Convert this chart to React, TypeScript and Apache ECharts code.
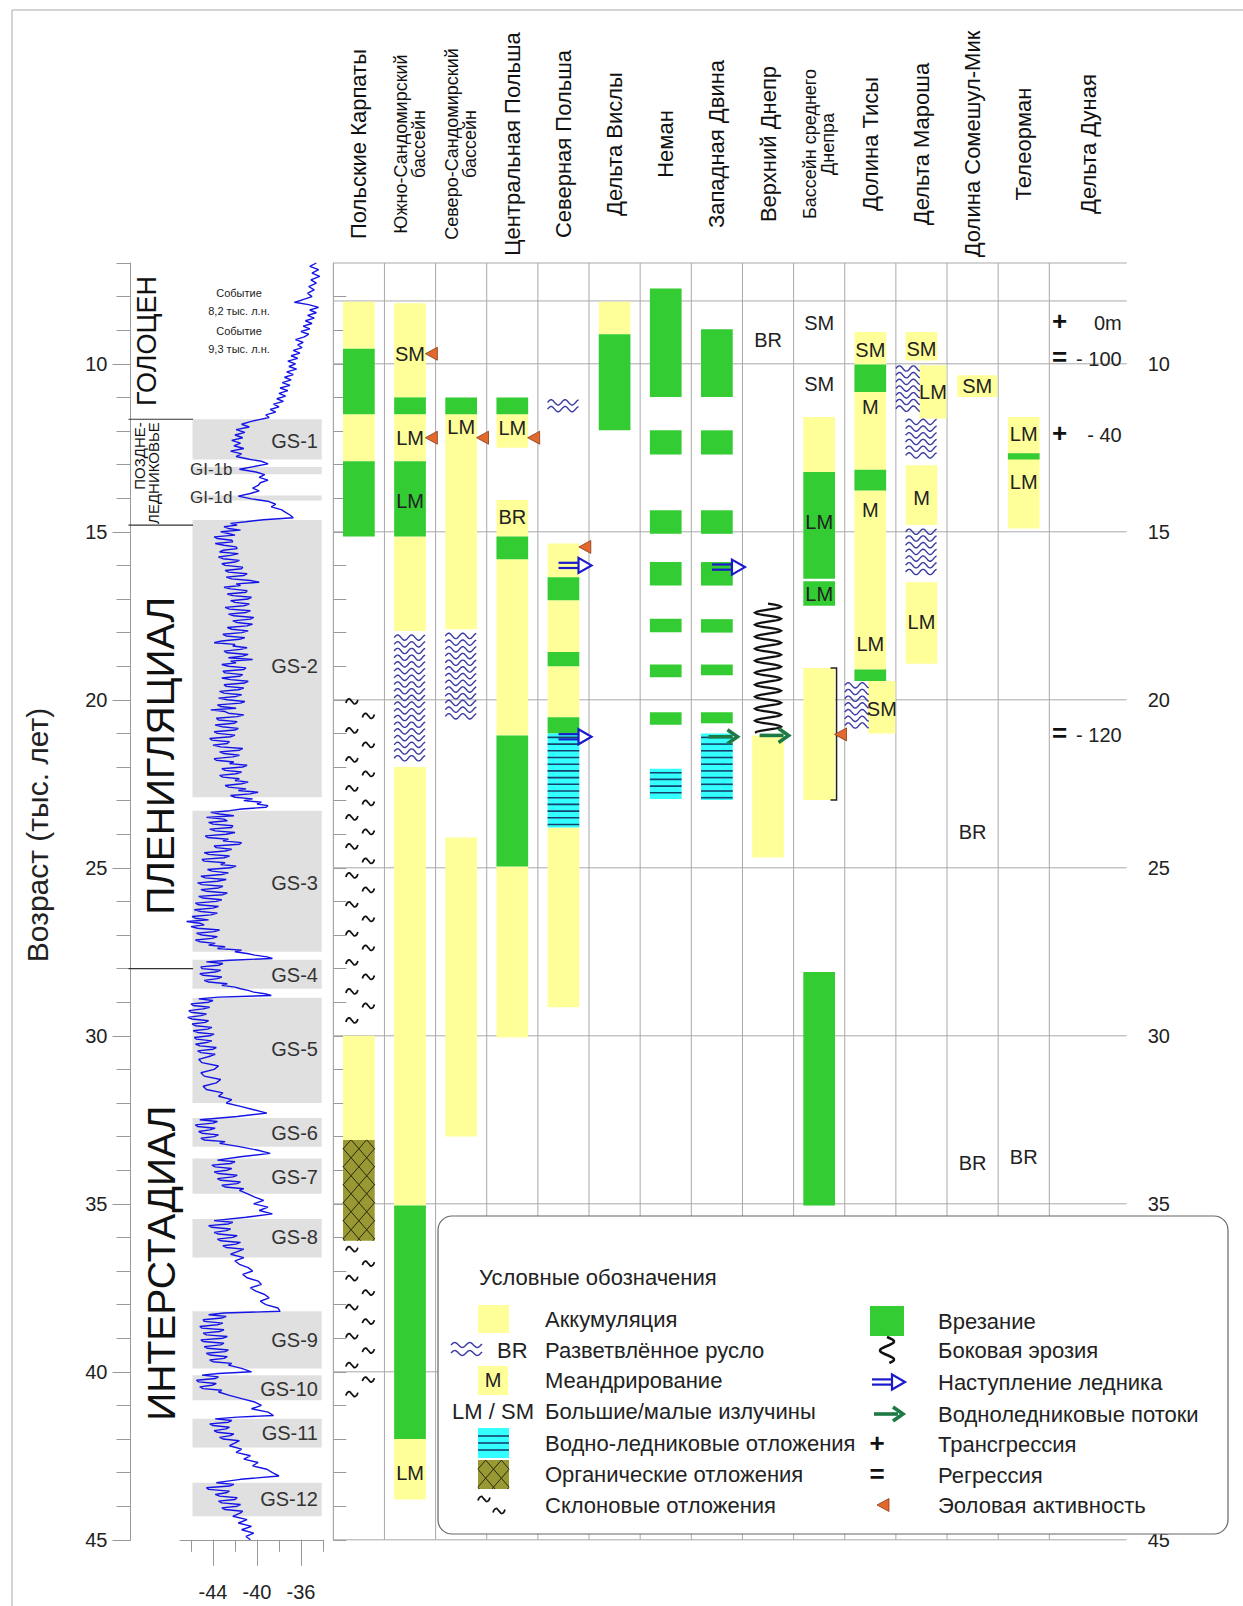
import React, { useEffect, useRef } from "react";
import * as echarts from "echarts";

// ================= DATA =================
const columns = [
  "Польские Карпаты",
  "Южно-Сандомирский\nбассейн",
  "Северо-Сандомирский\nбассейн",
  "Центральная Польша",
  "Северная Польша",
  "Дельта Вислы",
  "Неман",
  "Западная Двина",
  "Верхний Днепр",
  "Бассейн среднего\nДнепра",
  "Долина Тисы",
  "Дельта Мароша",
  "Долина Сомешул-Мик",
  "Телеорман",
  "Дельта Дуная",
];

const ageMajorTicks = [10, 15, 20, 25, 30, 35, 40, 45];
// right-axis labels (the "40" is hidden behind the legend box in the original)
const rightAgeLabels = [10, 15, 20, 25, 30, 35, 45];
const ageMinorTicks = [7, 8, 9, 10, 11, 12, 13, 14, 15, 16, 17, 18, 19, 20, 21, 22, 23, 24, 25, 26, 27, 28, 29, 30, 31, 32, 33, 34, 35, 36, 37, 38, 39, 40, 41, 42, 43, 44, 45];
const d18oTicks = [-46, -44, -42, -40, -38, -36, -34];
const d18oLabels = [-44, -40, -36];
const frameLineAges = [7, 8.13, 10, 15, 20, 25, 30, 35, 40, 45];

const periods: [string, number, number][] = [
  ["ГОЛОЦЕН", 7, 11.65],
  ["ПОЗДНЕ-\nЛЕДНИКОВЬЕ", 11.65, 14.8],
  ["ПЛЕНИГЛЯЦИАЛ", 14.8, 28],
  ["ИНТЕРСТАДИАЛ", 28, 45],
];

// [name, from, to, label age]
const stadials: [string, number, number, number][] = [
  ["GS-1", 11.65, 12.85, 12.3],
  ["GI-1b", 13.07, 13.29, 13.16],
  ["GI-1d", 13.92, 14.07, 13.98],
  ["GS-2", 14.65, 22.9, 19.0],
  ["GS-3", 23.3, 27.5, 25.45],
  ["GS-4", 27.74, 28.6, 28.2],
  ["GS-5", 28.87, 32.0, 30.4],
  ["GS-6", 32.45, 33.3, 32.9],
  ["GS-7", 33.65, 34.7, 34.2],
  ["GS-8", 35.45, 36.6, 36.0],
  ["GS-9", 38.2, 39.9, 39.05],
  ["GS-10", 40.1, 40.85, 40.5],
  ["GS-11", 41.4, 42.25, 41.83],
  ["GS-12", 43.3, 44.3, 43.8],
];

const holoceneEvents: [number, string][] = [
  [8.17, "Событие\n8,2 тыс. л.н."],
  [9.3, "Событие\n9,3 тыс. л.н."],
];

// NGRIP δ18O: [age ka, ‰]
const ngrip: [number, number][] = [
  [7.0, -34.6], [7.1, -35.2], [7.2, -34.4], [7.3, -35.0], [7.4, -34.3], [7.5, -35.1], [7.6, -34.6], [7.7, -35.3], [7.8, -34.8], [7.9, -35.4],
  [8.0, -35.0], [8.1, -35.9], [8.17, -36.6], [8.24, -35.3], [8.32, -34.4], [8.4, -35.2], [8.48, -34.6], [8.56, -35.4], [8.64, -34.8], [8.72, -35.6],
  [8.8, -35.0], [8.88, -35.8], [8.96, -35.2], [9.04, -36.0], [9.12, -35.3], [9.2, -35.7], [9.28, -36.5], [9.36, -35.8], [9.44, -36.3], [9.52, -35.9],
  [9.6, -36.7], [9.68, -36.1], [9.76, -36.9], [9.84, -36.3], [9.92, -37.2], [10.0, -36.5], [10.08, -37.1], [10.16, -36.4], [10.24, -37.3], [10.32, -36.7],
  [10.4, -37.5], [10.48, -36.9], [10.56, -37.7], [10.64, -37.0], [10.72, -37.9], [10.8, -37.2], [10.88, -38.0], [10.96, -37.4], [11.04, -38.2], [11.12, -37.6],
  [11.2, -38.5], [11.28, -38.0], [11.36, -38.8], [11.44, -38.3], [11.52, -39.2], [11.6, -38.9], [11.66, -39.8],
  [11.72, -40.6], [11.8, -41.4], [11.88, -40.7], [11.96, -41.9], [12.04, -41.1], [12.12, -42.0], [12.2, -41.3], [12.28, -42.3], [12.36, -41.5], [12.44, -42.1],
  [12.52, -41.2], [12.6, -42.4], [12.68, -41.4], [12.76, -41.9], [12.84, -40.7],
  [12.9, -39.6], [12.98, -39.0], [13.06, -40.3], [13.14, -41.6], [13.22, -40.1], [13.3, -39.3], [13.38, -39.8], [13.46, -39.0], [13.54, -39.7], [13.62, -39.9],
  [13.7, -40.4], [13.78, -39.8], [13.86, -40.6], [13.94, -41.7], [14.02, -40.5], [14.1, -38.9], [14.18, -38.3], [14.26, -38.7], [14.34, -37.8], [14.42, -37.4],
  [14.5, -37.0], [14.58, -36.7], [14.64, -39.4],
  [14.7, -41.0], [14.75, -42.4], [14.8, -41.8], [14.85, -43.0], [14.9, -42.6], [14.95, -41.5], [15.0, -43.3], [15.05, -42.6], [15.1, -42.0], [15.15, -43.9],
  [15.2, -43.6], [15.25, -42.3], [15.3, -42.2], [15.35, -43.8], [15.4, -43.0], [15.45, -41.9], [15.5, -41.8], [15.55, -43.1], [15.6, -43.4], [15.65, -41.7],
  [15.7, -42.4], [15.75, -43.5], [15.8, -43.1], [15.85, -41.6], [15.9, -42.0], [15.95, -43.2], [16.0, -42.9], [16.05, -41.3], [16.1, -41.4], [16.15, -42.9],
  [16.2, -42.6], [16.25, -40.9], [16.3, -41.2], [16.35, -42.8], [16.4, -42.3], [16.45, -40.6], [16.5, -39.8], [16.55, -41.9], [16.6, -41.5], [16.65, -43.0],
  [16.7, -42.4], [16.75, -40.9], [16.8, -41.0], [16.85, -42.7], [16.9, -42.2], [16.95, -40.5], [17.0, -40.8], [17.05, -42.4], [17.1, -42.0], [17.15, -40.7],
  [17.2, -41.2], [17.25, -42.9], [17.3, -42.5], [17.35, -40.6], [17.4, -41.0], [17.45, -42.6], [17.5, -42.1], [17.55, -40.3], [17.6, -40.6], [17.65, -42.2],
  [17.7, -41.8], [17.75, -40.4], [17.8, -40.9], [17.85, -42.7], [17.9, -42.3], [17.95, -40.8], [18.0, -41.4], [18.05, -43.1], [18.1, -42.8], [18.15, -41.1],
  [18.2, -41.6], [18.25, -43.2], [18.3, -43.9], [18.35, -42.0], [18.4, -42.2], [18.45, -40.9], [18.5, -41.5], [18.55, -43.0], [18.6, -42.7], [18.65, -40.8],
  [18.7, -41.3], [18.75, -42.6], [18.8, -40.4], [18.85, -42.4], [18.9, -41.9], [18.95, -43.2], [19.0, -42.6], [19.05, -41.0], [19.1, -41.2], [19.15, -43.1],
  [19.2, -42.9], [19.25, -41.3], [19.3, -41.6], [19.35, -43.2], [19.4, -42.4], [19.45, -40.8], [19.5, -41.1], [19.55, -43.0], [19.6, -42.8], [19.65, -41.2],
  [19.7, -41.7], [19.75, -43.4], [19.8, -43.0], [19.85, -41.4], [19.9, -41.9], [19.95, -43.5], [20.0, -42.7], [20.05, -41.1], [20.1, -41.5], [20.15, -43.6],
  [20.2, -43.3], [20.25, -41.9], [20.3, -44.2], [20.35, -42.9], [20.4, -42.6], [20.45, -41.2], [20.5, -41.8], [20.55, -43.7], [20.6, -43.5], [20.65, -41.8],
  [20.7, -42.1], [20.75, -43.8], [20.8, -43.2], [20.85, -41.7], [20.9, -42.0], [20.95, -43.9], [21.0, -43.6], [21.05, -42.0], [21.1, -42.4], [21.15, -44.3],
  [21.2, -44.1], [21.25, -42.5], [21.3, -42.7], [21.35, -44.0], [21.4, -43.3], [21.45, -41.3], [21.5, -41.6], [21.55, -43.4], [21.6, -43.0], [21.65, -41.6],
  [21.7, -42.2], [21.75, -43.9], [21.8, -43.7], [21.85, -42.1], [21.9, -42.5], [21.95, -40.9], [22.0, -41.3], [22.05, -43.2], [22.1, -42.9], [22.15, -41.4],
  [22.2, -41.9], [22.25, -43.4], [22.3, -43.1], [22.35, -41.6], [22.4, -42.0], [22.45, -40.8], [22.5, -41.4], [22.55, -42.9], [22.6, -42.6], [22.65, -41.0],
  [22.7, -41.7], [22.75, -39.9], [22.8, -40.6], [22.85, -42.4], [22.9, -42.0], [22.95, -40.4], [23.0, -41.2], [23.05, -39.6], [23.1, -40.0], [23.15, -39.0],
  [23.2, -39.2], [23.25, -41.4], [23.3, -42.5],
  [23.35, -44.2], [23.4, -43.4], [23.45, -42.1], [23.5, -44.6], [23.55, -43.0], [23.6, -42.7], [23.65, -44.4], [23.7, -44.0], [23.75, -42.2], [23.8, -42.3],
  [23.85, -44.3], [23.9, -43.8], [23.95, -42.0], [24.0, -42.8], [24.05, -44.7], [24.1, -44.5], [24.15, -42.6], [24.2, -43.1], [24.25, -41.4], [24.3, -41.6],
  [24.35, -43.9], [24.4, -43.7], [24.45, -42.3], [24.5, -42.9], [24.55, -44.8], [24.6, -44.4], [24.65, -42.5], [24.7, -43.0], [24.75, -45.0], [24.8, -44.8],
  [24.85, -42.9], [24.9, -43.3], [24.95, -41.9], [25.0, -42.4], [25.05, -44.5], [25.1, -44.1], [25.15, -42.6], [25.2, -43.2], [25.25, -45.1], [25.3, -44.7],
  [25.35, -42.8], [25.4, -43.6], [25.45, -45.4], [25.5, -45.0], [25.55, -43.1], [25.6, -43.5], [25.65, -45.1], [25.7, -44.6], [25.75, -42.7], [25.8, -43.1],
  [25.85, -45.3], [25.9, -44.9], [25.95, -43.2], [26.0, -43.7], [26.05, -45.6], [26.1, -45.3], [26.15, -43.5], [26.2, -44.0], [26.25, -45.7], [26.3, -45.1],
  [26.35, -43.6], [26.4, -44.2], [26.45, -45.9], [26.5, -45.6], [26.55, -44.4], [26.6, -46.4], [26.65, -45.2], [26.7, -44.8], [26.75, -46.0], [26.8, -45.4],
  [26.85, -43.4], [26.9, -43.9], [26.95, -45.5], [27.0, -45.0], [27.05, -43.6], [27.1, -44.1], [27.15, -45.6], [27.2, -45.2], [27.25, -43.8], [27.3, -44.4],
  [27.35, -42.9], [27.4, -43.6], [27.45, -41.4], [27.5, -42.0], [27.55, -40.9], [27.6, -40.2], [27.65, -39.1], [27.7, -38.6], [27.75, -42.5],
  [27.8, -44.6], [27.85, -43.1], [27.9, -43.5], [27.95, -45.1], [28.0, -45.0], [28.05, -43.3], [28.1, -43.8], [28.15, -45.2], [28.2, -44.9], [28.25, -43.2],
  [28.3, -43.6], [28.35, -44.8], [28.4, -44.4], [28.45, -42.7], [28.5, -43.2], [28.55, -42.0], [28.6, -41.5], [28.65, -40.8], [28.7, -40.3], [28.75, -39.3],
  [28.8, -38.7], [28.85, -43.5],
  [28.9, -45.3], [28.95, -44.0], [29.0, -44.4], [29.05, -46.0], [29.1, -45.8], [29.15, -44.3], [29.2, -44.9], [29.25, -46.2], [29.3, -46.0], [29.35, -44.6],
  [29.4, -45.1], [29.45, -46.3], [29.5, -45.9], [29.55, -44.4], [29.6, -44.7], [29.65, -45.9], [29.7, -45.6], [29.75, -44.1], [29.8, -44.5], [29.85, -45.8],
  [29.9, -45.4], [29.95, -43.9], [30.0, -44.3], [30.05, -45.7], [30.1, -45.5], [30.15, -44.1], [30.2, -44.6], [30.25, -45.6], [30.3, -45.2], [30.35, -43.7],
  [30.4, -44.0], [30.45, -45.4], [30.5, -45.1], [30.55, -43.8], [30.6, -44.2], [30.7, -45.3], [30.8, -45.0], [30.9, -43.5], [31.0, -43.9], [31.1, -45.1],
  [31.2, -44.8], [31.3, -43.3], [31.4, -43.7], [31.5, -44.9], [31.6, -44.6], [31.7, -43.1], [31.8, -43.5], [31.9, -42.3], [32.0, -42.8], [32.1, -41.5],
  [32.2, -40.3], [32.3, -39.1], [32.4, -41.8],
  [32.5, -45.2], [32.55, -43.6], [32.6, -44.0], [32.65, -45.6], [32.7, -45.4], [32.75, -43.8], [32.8, -44.3], [32.85, -45.3], [32.9, -45.0], [32.95, -43.5],
  [33.0, -43.9], [33.05, -45.1], [33.1, -44.8], [33.15, -42.9], [33.2, -43.4], [33.3, -41.6], [33.4, -40.0], [33.5, -38.8], [33.6, -41.5],
  [33.7, -43.6], [33.75, -42.0], [33.8, -42.4], [33.85, -44.1], [33.9, -43.8], [33.95, -42.3], [34.0, -42.7], [34.05, -43.9], [34.1, -43.5], [34.15, -41.8],
  [34.2, -42.2], [34.25, -43.6], [34.3, -43.3], [34.35, -41.5], [34.4, -41.8], [34.45, -43.2], [34.5, -42.9], [34.55, -41.2], [34.6, -41.6], [34.7, -40.9],
  [34.8, -40.2], [34.9, -39.4], [35.0, -40.3], [35.1, -39.0], [35.2, -39.8], [35.3, -38.6], [35.4, -41.0],
  [35.5, -43.9], [35.55, -42.2], [35.6, -42.6], [35.65, -44.4], [35.7, -44.1], [35.75, -42.4], [35.8, -42.8], [35.85, -43.9], [35.9, -43.5], [35.95, -41.8],
  [36.0, -42.2], [36.05, -43.6], [36.1, -43.3], [36.15, -41.5], [36.2, -41.9], [36.25, -43.1], [36.3, -42.8], [36.35, -41.2], [36.4, -41.6], [36.5, -42.4],
  [36.6, -41.2], [36.7, -42.0], [36.8, -41.6], [36.9, -40.8], [37.0, -40.4], [37.1, -41.3], [37.2, -40.9], [37.3, -39.9], [37.4, -39.6], [37.5, -40.6],
  [37.6, -40.1], [37.7, -39.3], [37.8, -38.9], [37.9, -39.7], [38.0, -39.2], [38.1, -38.1], [38.2, -37.9], [38.25, -43.0],
  [38.3, -44.4], [38.35, -42.8], [38.4, -43.2], [38.45, -44.9], [38.5, -44.8], [38.55, -43.1], [38.6, -43.6], [38.65, -45.2], [38.7, -45.0], [38.75, -43.0],
  [38.8, -43.4], [38.85, -44.9], [38.9, -44.6], [38.95, -42.7], [39.0, -43.1], [39.05, -45.1], [39.1, -44.9], [39.15, -43.0], [39.2, -43.3], [39.25, -44.8],
  [39.3, -44.5], [39.35, -42.6], [39.4, -42.9], [39.45, -44.6], [39.5, -44.3], [39.55, -42.7], [39.6, -43.0], [39.65, -44.3], [39.7, -44.0], [39.75, -42.3],
  [39.8, -42.6], [39.9, -41.4], [40.0, -40.5], [40.05, -43.5],
  [40.1, -45.0], [40.15, -43.5], [40.2, -43.8], [40.25, -45.5], [40.3, -45.3], [40.35, -43.7], [40.4, -44.1], [40.45, -45.2], [40.5, -44.9], [40.55, -43.2],
  [40.6, -43.5], [40.7, -42.5], [40.8, -41.4], [40.9, -40.2], [41.0, -39.6], [41.1, -40.5], [41.2, -39.0], [41.3, -38.5], [41.35, -41.8],
  [41.4, -43.8], [41.45, -42.3], [41.5, -42.6], [41.55, -44.3], [41.6, -44.0], [41.65, -42.5], [41.7, -42.8], [41.75, -43.9], [41.8, -43.6], [41.85, -42.1],
  [41.9, -42.4], [41.95, -43.4], [42.0, -43.1], [42.05, -41.6], [42.1, -41.9], [42.2, -42.5], [42.3, -41.4], [42.4, -41.9], [42.5, -40.6], [42.6, -41.2],
  [42.7, -39.9], [42.8, -40.4], [42.9, -39.1], [43.0, -38.6], [43.1, -38.0], [43.2, -41.5],
  [43.3, -43.7], [43.35, -42.1], [43.4, -42.5], [43.45, -44.6], [43.5, -44.4], [43.55, -42.5], [43.6, -42.8], [43.65, -43.8], [43.7, -43.4], [43.75, -41.8],
  [43.8, -42.0], [43.85, -43.5], [43.9, -43.2], [43.95, -41.5], [44.0, -41.8], [44.05, -43.2], [44.1, -42.9], [44.15, -41.3], [44.2, -41.5], [44.3, -42.2],
  [44.4, -40.9], [44.5, -41.7], [44.6, -40.5], [44.7, -41.4], [44.8, -40.3], [44.9, -41.0], [45.0, -40.6],
];

// Intervals: [column, from ka, to ka, lane?]
type Iv = [number, number, number, string?];
const accumulation: Iv[] = [
  [0, 8.15, 9.55], [0, 11.5, 12.9], [0, 30.0, 33.1],
  [1, 8.2, 11.0], [1, 11.5, 12.9], [1, 15.14, 17.95], [1, 22.0, 35.05], [1, 42.0, 43.8],
  [2, 11.5, 17.9], [2, 24.1, 33.0],
  [3, 11.5, 12.5], [3, 14.05, 15.14], [3, 15.82, 21.06], [3, 24.96, 30.05],
  [4, 15.35, 16.35], [4, 17.04, 18.58], [4, 19.0, 20.52], [4, 23.8, 29.15],
  [5, 8.15, 9.12],
  [8, 21.06, 24.69],
  [9, 11.58, 13.22], [9, 19.05, 22.98],
  [10, 9.05, 10.02], [10, 10.84, 13.15], [10, 13.77, 19.1], [10, 19.44, 21.0, "R"],
  [11, 9.05, 9.9], [11, 10.04, 11.63, "R"], [11, 13.02, 14.8], [11, 16.5, 18.93],
  [12, 10.34, 10.99, "W"],
  [13, 11.58, 14.9],
];
const incision: Iv[] = [
  [0, 9.55, 11.5], [0, 12.9, 15.14],
  [1, 11.0, 11.5], [1, 12.9, 15.14], [1, 35.05, 42.0],
  [2, 11.0, 11.5],
  [3, 11.0, 11.5], [3, 15.14, 15.82], [3, 21.06, 24.96],
  [4, 16.35, 17.04], [4, 18.58, 19.0], [4, 20.52, 21.0],
  [5, 9.12, 11.98],
  [6, 7.76, 10.99], [6, 11.98, 12.7], [6, 14.36, 15.06], [6, 15.9, 16.6], [6, 17.59, 17.99], [6, 18.95, 19.33], [6, 20.37, 20.74],
  [7, 8.97, 10.99], [7, 11.98, 12.7], [7, 14.36, 15.06], [7, 15.9, 16.6], [7, 17.6, 18.0], [7, 18.95, 19.27], [7, 20.37, 20.7],
  [9, 13.22, 16.4], [9, 16.47, 17.2], [9, 28.1, 35.05],
  [10, 10.02, 10.84], [10, 13.15, 13.77], [10, 19.1, 19.44],
  [13, 12.66, 12.85],
];
const braided: Iv[] = [
  [1, 18.05, 22.0], [2, 18.0, 20.6], [4, 11.05, 11.5],
  [10, 19.47, 21.0, "L"],
  [11, 10.04, 11.47, "L"], [11, 11.63, 12.97], [11, 14.9, 16.4],
];
const glacialDeposits: Iv[] = [[4, 21.0, 23.8], [6, 22.05, 22.95], [7, 21.0, 22.98]];
const organicDeposits: Iv[] = [[0, 33.1, 36.1]];
const slopeDeposits: Iv[] = [[0, 19.9, 29.8], [0, 36.2, 40.8]];
const lateralErosion: Iv[] = [[8, 17.14, 21.0]];
const brackets: Iv[] = [[9, 19.05, 22.98]];

// Labels: [column, age, text, lane?]
type Lb = [number, number, string, string?];
const channelLabels: Lb[] = [
  [1, 9.7, "SM"], [1, 12.2, "LM"], [1, 14.07, "LM"], [1, 43.0, "LM"],
  [2, 11.88, "LM"],
  [3, 11.9, "LM"], [3, 14.56, "BR"],
  [8, 9.28, "BR"],
  [9, 8.78, "SM"], [9, 10.59, "SM"], [9, 14.7, "LM"], [9, 16.84, "LM"],
  [10, 9.6, "SM"], [10, 11.29, "M"], [10, 14.36, "M"], [10, 18.33, "LM"], [10, 20.27, "SM", "R"],
  [11, 9.55, "SM"], [11, 10.84, "LM", "R"], [11, 14.0, "M"], [11, 17.69, "LM"],
  [12, 10.67, "SM", "W"], [12, 23.94, "BR"], [12, 33.8, "BR"],
  [13, 12.08, "LM"], [13, 13.52, "LM"], [13, 33.6, "BR"],
];

// Point events: [column, age]
const glacierAdvance: [number, number][] = [[4, 16.0], [4, 21.1], [7, 16.05]];
const meltwaterFlows: [number, number][] = [[7, 21.1], [8, 21.06]];
const aeolianActivity: [number, number][] = [[1, 9.7], [1, 12.2], [2, 12.2], [3, 12.2], [4, 15.45], [9, 21.03]];

// Sea level (Danube delta): [age, sign, level]
const seaLevel: [number, string, string][] = [
  [8.75, "+", "0m"],
  [9.82, "=", "- 100"],
  [12.1, "+", "- 40"],
  [21.03, "=", "- 120"],
];

const legendLeft = ["Аккумуляция", "Разветвлённое русло", "Меандрирование", "Большие/малые излучины", "Водно-ледниковые отложения", "Органические отложения", "Склоновые отложения"];
const legendRight = ["Врезание", "Боковая эрозия", "Наступление ледника", "Водноледниковые потоки", "Трансгрессия", "Регрессия", "Эоловая активность"];

// ================= STYLE / LAYOUT =================
const FONT = "'Liberation Sans', Arial, Helvetica, sans-serif";
const YELLOW = "#ffff99";
const GREEN = "#33cc33";
const CYAN = "#33ffff";
const OLIVE = "#999933";
const WAVE = "#3c3ca4";
const GLACIER = "#1a1acc";
const MELT = "#1d7a45";
const GRIDC = "#a9a9a9";
const TOP = 263;
const HEIGHT = 38 * 33.6;
const LAST_COL = 1.513;
const XMAX = 14 + LAST_COL;
const LANES: Record<string, [number, number]> = {
  C: [0.19, 0.81],
  L: [0.0, 0.47],
  R: [0.46, 0.99],
  W: [0.2, 0.98],
};
const colRight = (i: number) => (i === columns.length - 1 ? i + LAST_COL : i + 1);
const colCenter = (i: number) => (i + colRight(i)) / 2;

function txt(x: number, y: number, text: string, o: any = {}) {
  const align = o.align || "center";
  const valign = o.valign || "middle";
  return {
    type: "text",
    x,
    y,
    rotation: o.rotation || 0,
    z: o.z,
    style: {
      text,
      fill: o.color || "#222",
      fontSize: o.size || 20,
      fontFamily: FONT,
      fontWeight: o.weight || "normal",
      align,
      textAlign: align,
      verticalAlign: valign,
      textVerticalAlign: valign,
      lineHeight: o.lineHeight,
    },
  };
}

function waves(x0: number, y0: number, x1: number, y1: number, step: number, amp: number, period: number, color: string, lw: number) {
  const out: any[] = [];
  for (let y = y0 + step / 2; y <= y1 - step / 2 + 0.5; y += step) {
    const pts: number[][] = [];
    for (let x = x0; x <= x1 + 0.01; x += 1) pts.push([x, y - amp * Math.sin(((x - x0) / period) * 2 * Math.PI)]);
    out.push({ type: "polyline", shape: { points: pts }, style: { stroke: color, lineWidth: lw, fill: null } });
  }
  return out;
}

function hatch(x0: number, y0: number, x1: number, y1: number, dk: number, slope: number, color: string) {
  const out: any[] = [];
  for (const s of [slope, -slope]) {
    const ks = [y0 - s * x0, y0 - s * x1, y1 - s * x0, y1 - s * x1];
    const kmin = Math.min(...ks);
    const kmax = Math.max(...ks);
    for (let k = kmin + dk / 2; k < kmax; k += dk) {
      const pts: number[][] = [];
      for (const x of [x0, x1]) {
        const y = s * x + k;
        if (y >= y0 - 1e-6 && y <= y1 + 1e-6) pts.push([x, y]);
      }
      for (const y of [y0, y1]) {
        const x = (y - k) / s;
        if (x >= x0 - 1e-6 && x <= x1 + 1e-6) pts.push([x, y]);
      }
      if (pts.length >= 2) {
        pts.sort((a, b) => a[0] - b[0]);
        const a = pts[0];
        const b = pts[pts.length - 1];
        out.push({ type: "line", shape: { x1: a[0], y1: a[1], x2: b[0], y2: b[1] }, style: { stroke: color, lineWidth: 1 } });
      }
    }
  }
  return out;
}

function tilde(cx: number, cy: number) {
  return {
    type: "polyline",
    shape: { points: [[cx - 6, cy + 1.5], [cx - 3, cy - 2.5], [cx, cy], [cx + 3, cy + 2.5], [cx + 6, cy - 1.5]], smooth: 0.6 },
    style: { stroke: "#111", lineWidth: 1.7, fill: null },
  };
}

function zigzag(cx: number, y0: number, y1: number, amp: number, period: number, lw: number) {
  const pts: number[][] = [];
  for (let y = y0; y <= y1; y += 1) pts.push([cx + amp * Math.sin(((y - y0) / period) * 2 * Math.PI), y]);
  return { type: "polyline", shape: { points: pts }, style: { stroke: "#111", lineWidth: lw, fill: null } };
}

function glacierArrow(tipX: number, y: number) {
  return [
    { type: "line", shape: { x1: tipX - 33, y1: y - 2.6, x2: tipX - 11, y2: y - 2.6 }, style: { stroke: GLACIER, lineWidth: 2.2 } },
    { type: "line", shape: { x1: tipX - 33, y1: y + 2.6, x2: tipX - 11, y2: y + 2.6 }, style: { stroke: GLACIER, lineWidth: 2.2 } },
    { type: "polygon", shape: { points: [[tipX - 13, y - 7.5], [tipX, y], [tipX - 13, y + 7.5]] }, style: { fill: "#fff", stroke: GLACIER, lineWidth: 2.2 } },
  ];
}

function meltArrow(tipX: number, y: number) {
  return [
    { type: "line", shape: { x1: tipX - 30, y1: y, x2: tipX - 6, y2: y }, style: { stroke: MELT, lineWidth: 3.6 } },
    { type: "polyline", shape: { points: [[tipX - 11, y - 7], [tipX - 1, y], [tipX - 11, y + 7]] }, style: { stroke: MELT, lineWidth: 3.6, fill: null, lineJoin: "miter" } },
  ];
}

function aeolian(tipX: number, y: number) {
  return {
    type: "polygon",
    shape: { points: [[tipX, y], [tipX + 12, y - 6.5], [tipX + 12, y + 6.5]] },
    style: { fill: "#e2692e", stroke: "#8a3b17", lineWidth: 0.8 },
  };
}

// ---- series builders ----
function intervalSeries(id: string, items: Iv[], draw: (x0: number, y0: number, x1: number, y1: number) => any, z: number) {
  return {
    type: "custom",
    id,
    xAxisIndex: 2,
    yAxisIndex: 1,
    z,
    silent: true,
    clip: false,
    data: items.map((it) => [it[0], it[1], it[2]]),
    renderItem: (params: any, api: any) => {
      const it = items[params.dataIndex];
      const lane = LANES[it[3] || "C"];
      const p0 = api.coord([it[0] + lane[0], it[1]]);
      const p1 = api.coord([it[0] + lane[1], it[2]]);
      return draw(p0[0], p0[1], p1[0], p1[1]);
    },
  };
}

function pointSeries(id: string, items: any[], draw: (it: any, api: any) => any, z = 6) {
  return {
    type: "custom",
    id,
    xAxisIndex: 2,
    yAxisIndex: 1,
    z,
    silent: true,
    clip: false,
    data: items.map((it) => [it[0], it[1]]),
    renderItem: (params: any, api: any) => draw(items[params.dataIndex], api),
  };
}

function buildOption() {
  const series: any[] = [];

  // stadial bands + labels
  series.push({
    type: "custom",
    id: "stadials",
    xAxisIndex: 0,
    yAxisIndex: 0,
    z: 1,
    silent: true,
    data: stadials.map((s) => [-40, s[1], s[2]]),
    renderItem: (params: any, api: any) => {
      const [name, from, to, la] = stadials[params.dataIndex];
      const cs = params.coordSys;
      const y0 = api.coord([-40, from])[1];
      const y1 = api.coord([-40, to])[1];
      const ly = api.coord([-40, la])[1];
      const gi = name.indexOf("GI") === 0;
      return {
        type: "group",
        children: [
          { type: "rect", shape: { x: cs.x + 12.5, y: y0, width: cs.width - 13.8, height: y1 - y0 }, style: { fill: "#e0e0e0" } },
          gi
            ? txt(cs.x + 10, ly, name, { size: 17, align: "left", color: "#333" })
            : txt(cs.x + cs.width - 5, ly, name, { size: 20, align: "right", color: "#333" }),
        ],
      };
    },
  });

  // NGRIP curve
  series.push({
    type: "line",
    id: "ngrip",
    xAxisIndex: 0,
    yAxisIndex: 0,
    z: 3,
    silent: true,
    symbol: "none",
    showSymbol: false,
    lineStyle: { color: "#1414e6", width: 1.4 },
    data: ngrip.map(([a, v]) => [v, a]),
  });

  // Holocene events
  series.push({
    type: "custom",
    id: "events",
    xAxisIndex: 0,
    yAxisIndex: 0,
    z: 4,
    silent: true,
    data: holoceneEvents.map((e) => [-47, e[0]]),
    renderItem: (params: any, api: any) => {
      const e = holoceneEvents[params.dataIndex];
      const cs = params.coordSys;
      const y = api.coord([-47, e[0]])[1];
      return txt(cs.x + 59, y, e[1], { size: 11, lineHeight: 18, color: "#222" });
    },
  });

  // periods (left column)
  series.push({
    type: "custom",
    id: "periods",
    xAxisIndex: 3,
    yAxisIndex: 2,
    z: 4,
    silent: true,
    clip: false,
    data: periods.map((p) => [0, p[1], p[2]]),
    renderItem: (params: any, api: any) => {
      const i = params.dataIndex;
      const [name, from, to] = periods[i];
      const cs = params.coordSys;
      const yf = api.coord([0, from])[1];
      const yt = api.coord([0, to])[1];
      const children: any[] = [];
      if (i > 0) children.push({ type: "line", shape: { x1: cs.x - 2, y1: yf, x2: cs.x + cs.width, y2: yf }, style: { stroke: "#333", lineWidth: 1.2 } });
      const st = [
        { size: 27, dx: 16, dy: 0 },
        { size: 15, dx: 16, dy: 0 },
        { size: 39, dx: 30, dy: 9 },
        { size: 39, dx: 31, dy: 9 },
      ][i];
      if (i === 1) children.push(txt(cs.x + st.dx, yf + 3, name, { rotation: Math.PI / 2, size: st.size, align: "right", lineHeight: 14, color: "#111" }));
      else children.push(txt(cs.x + st.dx, (yf + yt) / 2 + st.dy, name, { rotation: Math.PI / 2, size: st.size, color: "#111" }));
      return { type: "group", children };
    },
  });

  // frame lines of the columns area
  const boundaries = columns.map((_, i) => i);
  series.push({
    type: "custom",
    id: "vlines",
    xAxisIndex: 2,
    yAxisIndex: 1,
    z: 1,
    silent: true,
    data: boundaries.map((b) => [b, 7]),
    renderItem: (params: any, api: any) => {
      const b = boundaries[params.dataIndex];
      const p0 = api.coord([b, 7]);
      const p1 = api.coord([b, 45]);
      return { type: "line", shape: { x1: p0[0], y1: p0[1], x2: p1[0], y2: p1[1] }, style: { stroke: GRIDC, lineWidth: 1 } };
    },
  });
  series.push({
    type: "custom",
    id: "hlines",
    xAxisIndex: 2,
    yAxisIndex: 1,
    z: 1,
    silent: true,
    data: frameLineAges.map((a) => [0, a]),
    renderItem: (params: any, api: any) => {
      const a = frameLineAges[params.dataIndex];
      const p0 = api.coord([0, a]);
      const p1 = api.coord([XMAX, a]);
      return { type: "line", shape: { x1: p0[0], y1: p0[1], x2: p1[0], y2: p1[1] }, style: { stroke: GRIDC, lineWidth: 1 } };
    },
  });

  // column headers
  series.push({
    type: "custom",
    id: "headers",
    xAxisIndex: 2,
    yAxisIndex: 1,
    z: 6,
    silent: true,
    clip: false,
    data: columns.map((_, i) => [colCenter(i), 7]),
    renderItem: (params: any, api: any) => {
      const i = params.dataIndex;
      const name = columns[i];
      const p = api.coord([colCenter(i), 7]);
      const two = name.indexOf("\n") >= 0;
      return txt(p[0], 144, name, { rotation: Math.PI / 2, size: two ? 18 : 22, lineHeight: 18, color: "#111" });
    },
  });

  // blocks
  series.push(intervalSeries("accumulation", accumulation, (x0, y0, x1, y1) => ({ type: "rect", shape: { x: x0, y: y0, width: x1 - x0, height: y1 - y0 }, style: { fill: YELLOW } }), 2));
  series.push(intervalSeries("incision", incision, (x0, y0, x1, y1) => ({ type: "rect", shape: { x: x0, y: y0, width: x1 - x0, height: y1 - y0 }, style: { fill: GREEN } }), 2));
  series.push(intervalSeries("braided", braided, (x0, y0, x1, y1) => ({ type: "group", children: waves(x0, y0, x1, y1, 6.7, 2.7, 14, WAVE, 1.4) }), 3));
  series.push(
    intervalSeries(
      "glacial",
      glacialDeposits,
      (x0, y0, x1, y1) => {
        const ch: any[] = [{ type: "rect", shape: { x: x0, y: y0, width: x1 - x0, height: y1 - y0 }, style: { fill: CYAN } }];
        for (let y = y0 + 4; y < y1 - 1; y += 6.7) ch.push({ type: "line", shape: { x1: x0, y1: y, x2: x1, y2: y }, style: { stroke: "#14446e", lineWidth: 1.6 } });
        return { type: "group", children: ch };
      },
      3
    )
  );
  series.push(
    intervalSeries(
      "organic",
      organicDeposits,
      (x0, y0, x1, y1) => ({
        type: "group",
        children: [{ type: "rect", shape: { x: x0, y: y0, width: x1 - x0, height: y1 - y0 }, style: { fill: OLIVE } }, ...hatch(x0, y0, x1, y1, 18, 1.15, "#2a2a10")],
      }),
      3
    )
  );
  series.push(
    intervalSeries(
      "slope",
      slopeDeposits,
      (x0, y0, x1, y1) => {
        const w = x1 - x0;
        const ch: any[] = [];
        let k = 0;
        for (let y = y0 + 5; y <= y1 - 3; y += 14.5) {
          ch.push(tilde(k % 2 === 0 ? x0 + 0.28 * w : x0 + 0.8 * w, y));
          k++;
        }
        return { type: "group", children: ch };
      },
      3
    )
  );
  series.push(intervalSeries("lateral", lateralErosion, (x0, y0, x1, y1) => zigzag((x0 + x1) / 2, y0, y1, 13, 12, 2.2), 3));
  series.push({
    type: "custom",
    id: "bracket",
    xAxisIndex: 2,
    yAxisIndex: 1,
    z: 4,
    silent: true,
    data: brackets.map((b) => [b[0], b[1], b[2]]),
    renderItem: (params: any, api: any) => {
      const b = brackets[params.dataIndex];
      const p0 = api.coord([b[0] + 0.84, b[1]]);
      const p1 = api.coord([b[0] + 0.84, b[2]]);
      return {
        type: "polyline",
        shape: { points: [[p0[0] - 6, p0[1]], [p0[0], p0[1]], [p1[0], p1[1]], [p1[0] - 6, p1[1]]] },
        style: { stroke: "#222", lineWidth: 1.5, fill: null },
      };
    },
  });

  // labels & symbols
  series.push(
    pointSeries("labels", channelLabels, (it: Lb, api: any) => {
      const lane = LANES[it[3] || "C"];
      const p = api.coord([it[0] + (lane[0] + lane[1]) / 2, it[1]]);
      return txt(p[0], p[1], it[2], { size: 20, color: "#222" });
    })
  );
  series.push(
    pointSeries("glacierAdvance", glacierAdvance, (it: any, api: any) => {
      const p = api.coord([colRight(it[0]), it[1]]);
      return { type: "group", children: glacierArrow(p[0] + 2.5, p[1]) };
    }, 7)
  );
  series.push(
    pointSeries("meltwater", meltwaterFlows, (it: any, api: any) => {
      const p = api.coord([colRight(it[0]), it[1]]);
      return { type: "group", children: meltArrow(p[0] - 4, p[1]) };
    }, 7)
  );
  series.push(
    pointSeries("aeolian", aeolianActivity, (it: any, api: any) => {
      const p = api.coord([it[0] + 0.8, it[1]]);
      return aeolian(p[0], p[1]);
    }, 7)
  );
  const danube = columns.length - 1;
  series.push(
    pointSeries(
      "sealevel",
      seaLevel.map((s) => [danube, s[0], s[1], s[2]]),
      (it: any, api: any) => {
        const p = api.coord([it[0] + 0.2, it[1]]);
        const q = api.coord([colRight(it[0]), it[1]]);
        return {
          type: "group",
          children: [
            txt(p[0], p[1] - 1, it[2], { size: 26, weight: "bold", color: "#111" }),
            txt(q[0] - 5, p[1] + 1, it[3], { size: 20, align: "right", color: "#222" }),
          ],
        };
      }
    )
  );

  // ---- legend (graphic) ----
  const rowsL = [1319, 1350, 1380, 1411, 1443, 1474, 1505];
  const rowsR = [1321, 1350, 1382, 1414, 1444, 1475, 1505];
  const g: any[] = [];
  g.push({ type: "rect", shape: { x: 438, y: 1216, width: 790, height: 318, r: 14 }, style: { fill: "#fff", stroke: "#666", lineWidth: 1.2 } });
  g.push(txt(479, 1277, "Условные обозначения", { size: 22, align: "left", color: "#222" }));
  legendLeft.forEach((t, i) => g.push(txt(545, rowsL[i], t, { size: 22, align: "left", color: "#222" })));
  legendRight.forEach((t, i) => g.push(txt(938, rowsR[i], t, { size: 22, align: "left", color: "#222" })));
  // left icons
  g.push({ type: "rect", shape: { x: 478, y: rowsL[0] - 14, width: 31, height: 28 }, style: { fill: YELLOW } });
  g.push(...waves(451, rowsL[1] - 9, 482, rowsL[1] + 7, 8, 2.5, 15, WAVE, 1.5));
  g.push(txt(497, rowsL[1], "BR", { size: 22, align: "left", color: "#222" }));
  g.push({ type: "rect", shape: { x: 478, y: rowsL[2] - 14, width: 30, height: 29 }, style: { fill: YELLOW } });
  g.push(txt(493, rowsL[2], "M", { size: 20, color: "#222" }));
  g.push(txt(534, rowsL[3], "LM / SM", { size: 22, align: "right", color: "#222" }));
  g.push({ type: "rect", shape: { x: 478, y: rowsL[4] - 15, width: 31, height: 30 }, style: { fill: CYAN } });
  [rowsL[4] - 7, rowsL[4], rowsL[4] + 7].forEach((y) => g.push({ type: "line", shape: { x1: 478, y1: y, x2: 509, y2: y }, style: { stroke: "#14446e", lineWidth: 1.6 } }));
  g.push({ type: "rect", shape: { x: 478, y: rowsL[5] - 14, width: 31, height: 29 }, style: { fill: OLIVE } });
  g.push(...hatch(478, rowsL[5] - 14, 509, rowsL[5] + 15, 18, 1.15, "#2a2a10"));
  g.push(tilde(484, rowsL[6] - 6));
  g.push(tilde(499, rowsL[6] + 6));
  // right icons
  g.push({ type: "rect", shape: { x: 870, y: rowsR[0] - 15, width: 34, height: 30 }, style: { fill: GREEN } });
  g.push(zigzag(887, rowsR[1] - 13, rowsR[1] + 13, 7, 18, 2.5));
  g.push(...glacierArrow(905, rowsR[2]));
  g.push(...meltArrow(904, rowsR[3]));
  g.push(txt(877, rowsR[4] - 1, "+", { size: 26, weight: "bold", color: "#111" }));
  g.push(txt(877, rowsR[5] - 1, "=", { size: 26, weight: "bold", color: "#111" }));
  g.push(aeolian(877, rowsR[6]));
  g.forEach((e) => (e.z = 100));

  const graphic: any[] = [
    { type: "rect", z: 0, shape: { x: 12, y: 10, width: 1400, height: 1800 }, style: { fill: "none", stroke: "#aaa", lineWidth: 1 } },
    txt(37, 835, "Возраст (тыс. лет)", { rotation: Math.PI / 2, size: 30, color: "#222", z: 5 }),
    ...g,
  ];

  const axisLine = { show: true, lineStyle: { color: "#999", width: 1 } };
  const tickStyle = { color: "#999", width: 1 };
  const labelBase = { fontSize: 20, color: "#222", fontFamily: FONT };

  return {
    animation: false,
    backgroundColor: "#fff",
    textStyle: { fontFamily: FONT },
    grid: [
      { left: 180, top: TOP, width: 143, height: HEIGHT },
      { left: 333.3, top: TOP, width: 793.4, height: HEIGHT },
      { left: 130.5, top: TOP, width: 62.5, height: HEIGHT },
    ],
    xAxis: [
      {
        gridIndex: 0, type: "value", min: -47, max: -34, position: "bottom",
        axisLine, axisTick: { show: true, customValues: d18oTicks, length: 12, lineStyle: tickStyle },
        axisLabel: { show: false }, splitLine: { show: false },
      },
      {
        gridIndex: 0, type: "value", min: -47, max: -34, position: "bottom",
        axisLine: { show: false }, axisTick: { show: true, customValues: d18oLabels, length: 26, lineStyle: tickStyle },
        axisLabel: { show: true, customValues: d18oLabels, margin: 42, ...labelBase }, splitLine: { show: false },
      },
      { gridIndex: 1, type: "value", min: 0, max: XMAX, show: false },
      { gridIndex: 2, type: "value", min: 0, max: 1, show: false },
    ],
    yAxis: [
      { gridIndex: 0, type: "value", min: 7, max: 45, inverse: true, show: false },
      {
        gridIndex: 1, type: "value", min: 7, max: 45, inverse: true, position: "right",
        axisLine, axisTick: { show: true, inside: false, customValues: ageMinorTicks.filter((v) => v > 7), length: 13, lineStyle: tickStyle },
        axisLabel: { show: true, customValues: rightAgeLabels, margin: 21, ...labelBase }, splitLine: { show: false },
      },
      {
        gridIndex: 2, type: "value", min: 7, max: 45, inverse: true, position: "left",
        axisLine, axisTick: { show: true, customValues: ageMajorTicks, length: 18, lineStyle: tickStyle },
        axisLabel: { show: true, customValues: ageMajorTicks, margin: 23, ...labelBase }, splitLine: { show: false },
      },
      {
        gridIndex: 2, type: "value", min: 7, max: 45, inverse: true, position: "left",
        axisLine: { show: false }, axisTick: { show: true, customValues: ageMinorTicks, length: 14, lineStyle: tickStyle },
        axisLabel: { show: false }, splitLine: { show: false },
      },
    ],
    series,
    graphic,
  };
}

export default function App() {
  const ref = useRef<HTMLDivElement>(null);
  useEffect(() => {
    if (!ref.current) return;
    const chart = echarts.init(ref.current, undefined, { renderer: "svg" });
    chart.setOption(buildOption() as any);
    return () => chart.dispose();
  }, []);
  return <div ref={ref} style={{ position: "absolute", left: 0, top: 0, width: 1243, height: 1606, background: "#fff" }} />;
}
